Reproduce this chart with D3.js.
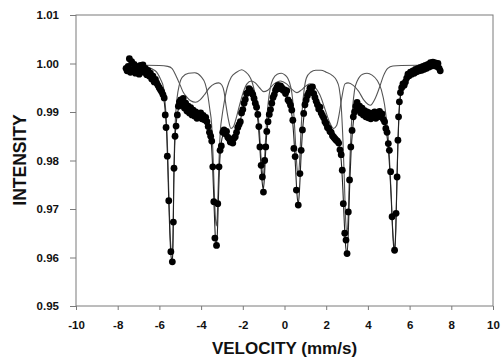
<!DOCTYPE html>
<html>
<head>
<meta charset="utf-8">
<script src="https://cdn.jsdelivr.net/npm/d3@7"></script>
<style>
  body { margin: 0; background: #fff; }
  svg { display: block; }
  text { font-family: "Liberation Sans", Arial, sans-serif; font-weight: bold; fill: #111; }
</style>
</head>
<body>
<svg id="chart" width="501" height="357"></svg>
<script>
// measured spectrum (velocity in mm/s, relative intensity)
const velocity = [
  -7.60, -7.55, -7.50, -7.44, -7.39, -7.33, -7.27, -7.21, -7.15, -7.09, -7.03, -6.97, -6.91, -6.85, -6.79, -6.73,
  -6.67, -6.61, -6.55, -6.49, -6.43, -6.37, -6.31, -6.25, -6.19, -6.13, -6.07, -6.01, -5.95, -5.89, -5.83, -5.77,
  -5.72, -5.68, -5.62, -5.55, -5.45, -5.38, -5.33, -5.30, -5.25, -5.20, -5.14, -5.09, -5.04,
  -4.98, -4.92, -4.86, -4.80, -4.74, -4.68, -4.62, -4.56, -4.50, -4.44, -4.38, -4.32, -4.26, -4.20, -4.14, -4.08,
  -4.02, -3.96, -3.90, -3.84, -3.78, -3.72, -3.66,
  -3.60, -3.54, -3.49, -3.44, -3.39, -3.34, -3.26, -3.20, -3.14, -3.09, -3.03,
  -2.96, -2.90, -2.84, -2.78, -2.72, -2.66, -2.60, -2.54, -2.48, -2.42, -2.36, -2.30, -2.24, -2.18, -2.12, -2.06,
  -2.00, -1.94, -1.88, -1.82, -1.76, -1.70, -1.64, -1.58, -1.52, -1.46, -1.40, -1.34,
  -1.28, -1.23, -1.18, -1.12, -1.06, -1.01, -0.95, -0.90, -0.85, -0.79, -0.73, -0.67, -0.61, -0.55, -0.49, -0.43,
  -0.37, -0.31, -0.25, -0.19, -0.13, -0.07, -0.01, 0.05,
  0.11, 0.17, 0.23, 0.29, 0.35, 0.40, 0.45, 0.51, 0.57, 0.66, 0.74, 0.80, 0.86, 0.92, 0.98, 1.04,
  1.10, 1.16, 1.22, 1.28, 1.34, 1.40,
  1.46, 1.52, 1.58, 1.64, 1.70, 1.76, 1.82, 1.88, 1.94, 2.00, 2.06, 2.12, 2.18, 2.24, 2.30, 2.36,
  2.42, 2.48, 2.54, 2.60, 2.66, 2.72, 2.77, 2.82, 2.89, 2.95, 3.00, 3.06, 3.12, 3.18, 3.24, 3.30, 3.36,
  3.42, 3.48, 3.54, 3.60, 3.66, 3.72, 3.78, 3.84, 3.90, 3.96, 4.02, 4.08, 4.14, 4.20, 4.26, 4.32,
  4.38, 4.44, 4.50, 4.56, 4.62, 4.68, 4.74,
  4.80, 4.86, 4.92, 4.98, 5.03, 5.09, 5.16, 5.28, 5.35, 5.40, 5.44, 5.47, 5.51, 5.56,
  5.62, 5.68, 5.74, 5.80, 5.86, 5.92, 5.98, 6.04, 6.10, 6.16, 6.22, 6.28, 6.34, 6.40, 6.46, 6.52,
  6.58, 6.64, 6.70, 6.76, 6.82, 6.88, 6.94, 7.00, 7.06, 7.12, 7.18, 7.24, 7.30, 7.36, 7.42, 7.47
];
const intensity = [
  0.9990, 0.9985, 0.9994, 1.0010, 0.9982, 1.0004, 0.9988, 0.9998, 0.9980, 0.9994, 0.9986, 0.9978, 0.9996, 0.9985, 0.9997, 0.9982,
  0.9990, 0.9977, 0.9986, 0.9974, 0.9980, 0.9968, 0.9974, 0.9962, 0.9967, 0.9960, 0.9955, 0.9950, 0.9946, 0.9942, 0.9936, 0.9929,
  0.9894, 0.9868, 0.9809, 0.9717, 0.9612, 0.9591, 0.9673, 0.9784, 0.9850, 0.9871, 0.9894, 0.9912, 0.9921,
  0.9925, 0.9914, 0.9928, 0.9908, 0.9918, 0.9902, 0.9912, 0.9898, 0.9909, 0.9894, 0.9904, 0.9892, 0.9900, 0.9887, 0.9897, 0.9889,
  0.9898, 0.9886, 0.9893, 0.9884, 0.9889, 0.9880, 0.9870,
  0.9858, 0.9850, 0.9840, 0.9787, 0.9715, 0.9640, 0.9625, 0.9711, 0.9787, 0.9821, 0.9830,
  0.9858, 0.9863, 0.9855, 0.9860, 0.9848, 0.9845, 0.9838, 0.9842, 0.9836, 0.9846, 0.9849, 0.9858, 0.9868, 0.9874, 0.9880, 0.9898,
  0.9905, 0.9918, 0.9926, 0.9938, 0.9940, 0.9948, 0.9945, 0.9940, 0.9936, 0.9928, 0.9918, 0.9910,
  0.9895, 0.9870, 0.9828, 0.9790, 0.9766, 0.9735, 0.9800, 0.9828, 0.9860, 0.9880, 0.9895, 0.9905, 0.9918, 0.9930, 0.9936, 0.9945,
  0.9950, 0.9955, 0.9948, 0.9954, 0.9950, 0.9945, 0.9946, 0.9938,
  0.9944, 0.9925, 0.9921, 0.9914, 0.9904, 0.9883, 0.9825, 0.9808, 0.9739, 0.9708, 0.9773, 0.9821, 0.9863, 0.9897, 0.9915, 0.9925,
  0.9934, 0.9940, 0.9949, 0.9945, 0.9952, 0.9938,
  0.9930, 0.9922, 0.9915, 0.9906, 0.9910, 0.9898, 0.9893, 0.9888, 0.9880, 0.9876, 0.9868, 0.9866, 0.9860, 0.9858, 0.9851, 0.9848,
  0.9845, 0.9842, 0.9840, 0.9836, 0.9822, 0.9812, 0.9780, 0.9711, 0.9650, 0.9636, 0.9608, 0.9694, 0.9760, 0.9828, 0.9862, 0.9890, 0.9900,
  0.9912, 0.9920, 0.9905, 0.9912, 0.9898, 0.9908, 0.9894, 0.9903, 0.9890, 0.9900, 0.9888, 0.9898, 0.9886, 0.9896, 0.9889, 0.9900,
  0.9887, 0.9897, 0.9890, 0.9901, 0.9892, 0.9896, 0.9885,
  0.9880, 0.9866, 0.9858, 0.9835, 0.9821, 0.9777, 0.9684, 0.9615, 0.9691, 0.9766, 0.9842, 0.9890, 0.9921, 0.9940,
  0.9950, 0.9958, 0.9955, 0.9962, 0.9970, 0.9978, 0.9975, 0.9982, 0.9978, 0.9985, 0.9980, 0.9988, 0.9983, 0.9990, 0.9985, 0.9992,
  0.9986, 0.9994, 0.9988, 0.9996, 0.9990, 0.9998, 0.9993, 1.0002, 0.9995, 1.0003, 0.9996, 1.0001, 0.9994, 1.0000, 0.9990, 0.9985
];

// total fitted curve
const fitVelocity = [
  -7.6, -7.0, -6.6, -6.3, -6.1, -5.95, -5.85, -5.76, -5.70, -5.65, -5.60, -5.55, -5.50, -5.45, -5.41, -5.37,
  -5.34, -5.31, -5.27, -5.22, -5.15, -5.05, -4.9, -4.6, -4.3, -4.0, -3.8, -3.68, -3.58, -3.50, -3.44, -3.38,
  -3.32, -3.27, -3.22, -3.17, -3.12, -3.07, -3.0, -2.9, -2.75, -2.6, -2.45, -2.3, -2.15, -2.0, -1.85, -1.7,
  -1.58, -1.45, -1.35, -1.27, -1.20, -1.13, -1.07, -1.02, -0.97, -0.92, -0.86, -0.78, -0.68, -0.55, -0.4, -0.2,
  0.0, 0.15, 0.28, 0.38, 0.46, 0.53, 0.60, 0.66, 0.72, 0.79, 0.86, 0.94, 1.05, 1.2, 1.35, 1.5,
  1.7, 1.9, 2.1, 2.3, 2.5, 2.62, 2.72, 2.80, 2.87, 2.94, 3.0, 3.06, 3.12, 3.19, 3.27, 3.36,
  3.5, 3.8, 4.2, 4.6, 4.75, 4.87, 4.97, 5.05, 5.12, 5.18, 5.24, 5.29, 5.34, 5.39, 5.44, 5.49,
  5.56, 5.7, 5.9, 6.3, 6.9, 7.5
];
const fitIntensity = [
  0.9991, 0.9990, 0.9985, 0.9974, 0.9962, 0.9948, 0.9936, 0.9918, 0.9890, 0.9855, 0.9790, 0.9715, 0.9650, 0.9607, 0.9594, 0.9600,
  0.9650, 0.9750, 0.9825, 0.9865, 0.9892, 0.9910, 0.9914, 0.9905, 0.9898, 0.9893, 0.9886, 0.9873, 0.9855, 0.9830, 0.9780, 0.9710,
  0.9645, 0.9625, 0.9650, 0.9720, 0.9785, 0.9822, 0.9845, 0.9855, 0.9850, 0.9842, 0.9843, 0.9855, 0.9877, 0.9905, 0.9930, 0.9944,
  0.9943, 0.9930, 0.9910, 0.9880, 0.9840, 0.9790, 0.9755, 0.9740, 0.9760, 0.9805, 0.9850, 0.9882, 0.9905, 0.9928, 0.9945, 0.9950,
  0.9945, 0.9930, 0.9912, 0.9885, 0.9840, 0.9785, 0.9730, 0.9710, 0.9740, 0.9805, 0.9858, 0.9895, 0.9925, 0.9942, 0.9943, 0.9928,
  0.9908, 0.9885, 0.9866, 0.9852, 0.9842, 0.9830, 0.9800, 0.9740, 0.9670, 0.9620, 0.9608, 0.9650, 0.9740, 0.9815, 0.9865, 0.9895,
  0.9906, 0.9900, 0.9895, 0.9893, 0.9884, 0.9864, 0.9830, 0.9780, 0.9720, 0.9660, 0.9620, 0.9612, 0.9660, 0.9750, 0.9835, 0.9895,
  0.9932, 0.9955, 0.9972, 0.9984, 0.9992, 0.9994
];

// sharp sextet subspectrum
const sharpVelocity = [
  -7.6, -6.6, -6.2, -5.95, -5.8, -5.7, -5.62, -5.55, -5.50, -5.45, -5.41, -5.37, -5.34, -5.31, -5.27, -5.22,
  -5.15, -5.05, -4.9, -4.6, -4.3, -4.0, -3.8, -3.68, -3.58, -3.50, -3.44, -3.38, -3.32, -3.27, -3.22, -3.17,
  -3.12, -3.07, -3.0, -2.9, -2.75, -2.55, -2.3, -2.05, -1.85, -1.7, -1.58, -1.45, -1.35, -1.27, -1.20, -1.13,
  -1.07, -1.02, -0.97, -0.92, -0.86, -0.78, -0.68, -0.55, -0.35, -0.15, 0.0, 0.15, 0.28, 0.38, 0.46, 0.53,
  0.60, 0.66, 0.72, 0.79, 0.86, 0.94, 1.05, 1.25, 1.5, 1.75, 2.0, 2.3, 2.5, 2.62, 2.72, 2.80,
  2.87, 2.94, 3.0, 3.06, 3.12, 3.19, 3.27, 3.36, 3.5, 3.75, 3.96, 4.2, 4.45, 4.65, 4.8, 4.9,
  4.98, 5.05, 5.12, 5.18, 5.24, 5.29, 5.34, 5.39, 5.44, 5.49, 5.56, 5.7, 5.9, 6.3, 6.9, 7.5
];
const sharpIntensity = [
  0.9995, 0.9992, 0.9985, 0.9968, 0.9950, 0.9905, 0.9840, 0.9735, 0.9665, 0.9622, 0.9608, 0.9612, 0.9662, 0.9765, 0.9846, 0.9895,
  0.9930, 0.9955, 0.9972, 0.9980, 0.9981, 0.9973, 0.9958, 0.9935, 0.9905, 0.9877, 0.9825, 0.9752, 0.9687, 0.9665, 0.9690, 0.9760,
  0.9825, 0.9865, 0.9890, 0.9918, 0.9950, 0.9972, 0.9982, 0.9987, 0.9982, 0.9975, 0.9965, 0.9945, 0.9925, 0.9895, 0.9860, 0.9810,
  0.9780, 0.9768, 0.9790, 0.9835, 0.9880, 0.9920, 0.9950, 0.9968, 0.9978, 0.9980, 0.9977, 0.9970, 0.9955, 0.9930, 0.9888, 0.9835,
  0.9785, 0.9768, 0.9795, 0.9860, 0.9910, 0.9945, 0.9970, 0.9982, 0.9986, 0.9986, 0.9982, 0.9975, 0.9965, 0.9950, 0.9912, 0.9845,
  0.9760, 0.9672, 0.9650, 0.9692, 0.9782, 0.9860, 0.9910, 0.9945, 0.9965, 0.9978, 0.9980, 0.9976, 0.9965, 0.9945, 0.9915, 0.9880,
  0.9845, 0.9790, 0.9728, 0.9665, 0.9628, 0.9618, 0.9665, 0.9755, 0.9840, 0.9898, 0.9936, 0.9960, 0.9975, 0.9986, 0.9993, 0.9995
];

// broad sextet subspectrum
const broadVelocity = [
  -7.6, -6.0, -5.6, -5.4, -5.2, -5.0, -4.85, -4.69, -4.5, -4.27, -4.05, -3.85, -3.6, -3.35, -3.15, -3.0,
  -2.9, -2.8, -2.68, -2.57, -2.45, -2.3, -2.15, -2.0, -1.8, -1.6, -1.4, -1.2, -1.0, -0.8, -0.5, -0.2,
  0.1, 0.4, 0.6, 0.8, 1.0, 1.23, 1.45, 1.7, 1.95, 2.15, 2.35, 2.5, 2.62, 2.75, 2.9, 3.05,
  3.3, 3.55, 3.8, 4.0, 4.12, 4.35, 4.55, 4.75, 4.95, 5.2, 5.6, 7.5
];
const broadIntensity = [
  0.9997, 0.9996, 0.9994, 0.9990, 0.9974, 0.9955, 0.9940, 0.9931, 0.9923, 0.9920, 0.9925, 0.9935, 0.9950, 0.9958, 0.9960, 0.9955,
  0.9942, 0.9912, 0.9882, 0.9866, 0.9870, 0.9890, 0.9915, 0.9938, 0.9958, 0.9964, 0.9960, 0.9950, 0.9942, 0.9945, 0.9958, 0.9964,
  0.9958, 0.9945, 0.9940, 0.9945, 0.9953, 0.9958, 0.9952, 0.9935, 0.9905, 0.9880, 0.9866, 0.9872, 0.9895, 0.9930, 0.9958, 0.9960,
  0.9955, 0.9943, 0.9925, 0.9916, 0.9914, 0.9928, 0.9950, 0.9975, 0.9990, 0.9995, 0.9996, 0.9997
];

const xTicks = [-10, -8, -6, -4, -2, 0, 2, 4, 6, 8, 10];
const yTicks = [0.95, 0.96, 0.97, 0.98, 0.99, 1.00, 1.01];

const svg = d3.select("#chart");
const plotLeft = 76, plotRight = 493, plotTop = 15, plotBottom = 306;

const x = d3.scaleLinear().domain([-10, 10]).range([plotLeft, plotRight]);
const y = d3.scaleLinear().domain([0.95, 1.01]).range([plotBottom, plotTop]);

// plot frame
svg.append("rect")
  .attr("x", plotLeft).attr("y", plotTop)
  .attr("width", plotRight - plotLeft).attr("height", plotBottom - plotTop)
  .attr("fill", "none").attr("stroke", "#7a7a7a").attr("stroke-width", 1);

// axes (plain hyphen for negatives, as in the original)
const yAxis = svg.append("g")
  .attr("transform", "translate(" + plotLeft + ",0)")
  .call(d3.axisLeft(y).tickValues(yTicks).tickSize(6).tickPadding(11).tickFormat(d => d.toFixed(2)));
const xAxis = svg.append("g")
  .attr("transform", "translate(0," + plotBottom + ")")
  .call(d3.axisBottom(x).tickValues(xTicks).tickSize(4).tickFormat(d => String(d)));

[xAxis, yAxis].forEach(g => {
  g.select(".domain").remove();
  g.selectAll(".tick line").attr("stroke", "#7a7a7a");
  g.selectAll(".tick text").style("font-size", "11.5px").attr("fill", "#111");
});
xAxis.selectAll(".tick text").attr("y", 22.5).attr("dy", null);

// fitted lines
const line = d3.line()
  .x(d => x(d[0]))
  .y(d => y(d[1]))
  .curve(d3.curveMonotoneX);

[[broadVelocity, broadIntensity], [sharpVelocity, sharpIntensity]].forEach(([vs, is]) => {
  svg.append("path")
    .datum(d3.zip(vs, is))
    .attr("d", line)
    .attr("fill", "none")
    .attr("stroke", "#555")
    .attr("stroke-width", 1.1);
});

svg.append("path")
  .datum(d3.zip(fitVelocity, fitIntensity))
  .attr("d", line)
  .attr("fill", "none")
  .attr("stroke", "#222")
  .attr("stroke-width", 1.1);

// data points
svg.append("g")
  .selectAll("circle")
  .data(d3.zip(velocity, intensity))
  .enter()
  .append("circle")
  .attr("cx", d => x(d[0]))
  .attr("cy", d => y(d[1]))
  .attr("r", 3.4)
  .attr("fill", "#000");

// axis titles
svg.append("text")
  .attr("x", (plotLeft + plotRight) / 2)
  .attr("y", 354)
  .attr("text-anchor", "middle")
  .style("font-size", "17px")
  .text("VELOCITY (mm/s)");

svg.append("text")
  .attr("transform", "translate(26,160) rotate(-90)")
  .attr("text-anchor", "middle")
  .style("font-size", "17.5px")
  .text("INTENSITY");
</script>
</body>
</html>
